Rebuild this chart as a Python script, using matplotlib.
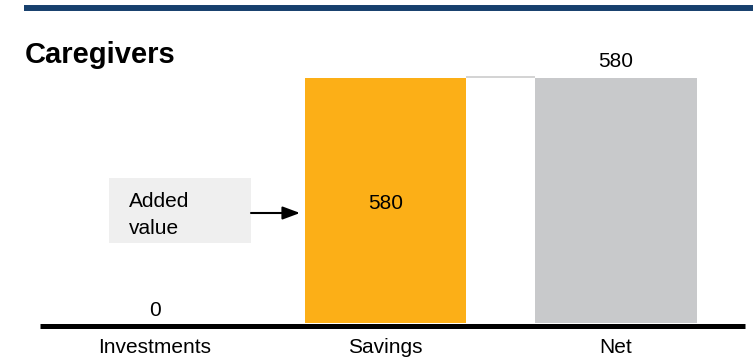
import matplotlib
matplotlib.use("Agg")
import matplotlib.pyplot as plt
from matplotlib.patches import Rectangle
from matplotlib.lines import Line2D

plt.rcParams['font.family'] = ['Liberation Sans', 'DejaVu Sans']

categories = ["Investments", "Savings", "Net"]
values = [0, 580, 580]
bottoms = [0, 0, 0]
labels = ["0", "580", "580"]
bar_colors = ["#FCAF17", "#FCAF17", "#C8C9CB"]
title = "Caregivers"
note = "Added\nvalue"

W, H = 753, 361
fig = plt.figure(figsize=(W / 100, H / 100), dpi=100)

# layout in pixels (from top-left)
ax_left, ax_right = 40, 745
base_px, top_px = 323, 78
ax_top_px = 20
spacing = 230.5
cx0 = 155  # pixel centre of first category

ax = fig.add_axes([ax_left / W, (H - base_px) / H, (ax_right - ax_left) / W, (base_px - ax_top_px) / H])
ax.set_xlim((ax_left - cx0) / spacing, (ax_right - cx0) / spacing)
yscale = max(values) / (base_px - top_px)
ax.set_ylim(0, (base_px - ax_top_px) * yscale)


def px_x(px):
    return (px - cx0) / spacing


def px_y(py):
    return (base_px - py) * yscale


bw = 0.70
xs = list(range(len(categories)))
ax.bar(xs, values, bottom=bottoms, width=bw, color=bar_colors, zorder=2)

# connector between Savings and Net
ax.plot([1 + bw / 2, 2 - bw / 2], [values[1] + 1.5 * yscale, values[1] + 1.5 * yscale],
        color="#C8C8C8", lw=1.1, zorder=1, solid_capstyle="butt")

# value labels
fs = 15
ax.annotate(labels[0], (0, values[0]), xytext=(0, 5), textcoords="offset points",
            ha="center", va="baseline", fontsize=fs)
ax.annotate(labels[1], (1, bottoms[1] + values[1] / 2), xytext=(0, -6), textcoords="offset points",
            ha="center", va="baseline", fontsize=fs)
ax.annotate(labels[2], (2, values[2]), xytext=(0, 8), textcoords="offset points",
            ha="center", va="baseline", fontsize=fs)

# note box and arrow
ax.add_patch(Rectangle((px_x(109), px_y(243)), px_x(251) - px_x(109), px_y(178) - px_y(243),
                       facecolor="#EFEFEF", edgecolor="none", zorder=1))
for line, by in zip(note.split("\n"), [207, 234]):
    ax.text(px_x(129), px_y(by), line, ha="left", va="baseline", fontsize=fs)
ay = px_y(213)
ax.annotate("", xy=(px_x(300), ay), xytext=(px_x(251), ay),
            arrowprops=dict(arrowstyle="-|>,head_length=0.75,head_width=0.28", color="black",
                            lw=1.5, mutation_scale=14, shrinkA=0, shrinkB=0))

for s in ["top", "right", "left", "bottom"]:
    ax.spines[s].set_visible(False)
ax.set_yticks([])
ax.set_xticks(xs, categories, fontsize=fs)
ax.tick_params(axis="x", length=0, pad=11)

# baseline
fig.add_artist(Line2D([ax_left / W, ax_right / W], [(H - 325.5) / H, (H - 325.5) / H],
                      color="black", lw=3.6, solid_capstyle="butt"))
# top rule and title
fig.add_artist(Line2D([24 / W, 1], [(H - 8) / H, (H - 8) / H], color="#17406D", lw=4.3,
                      solid_capstyle="butt"))
fig.text(25 / W, (H - 55) / H, title, fontsize=21, fontweight="bold", ha="left", va="center")

fig.savefig("out.png", dpi=100)
